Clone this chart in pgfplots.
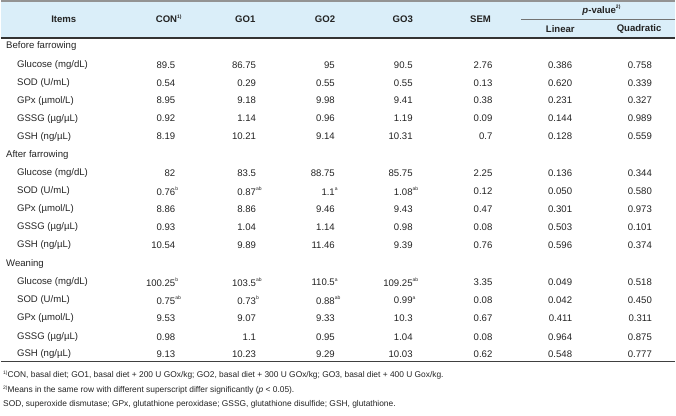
\documentclass[border=0pt]{standalone}
\usepackage{pgfplots}
\pgfplotsset{compat=1.18}
\usepackage{fontspec}
\setmainfont{Liberation Sans}
\definecolor{hdrblue}{RGB}{218,238,249}
\definecolor{txt}{RGB}{35,35,35}
\newcommand{\sx}[1]{\rlap{\raisebox{0.9ex}{\fontsize{5}{5}\selectfont #1}}}
\newcommand{\rowvals}[8]{%
  \node[R] at (axis cs:175,#1) {#2};
  \node[R] at (axis cs:256,#1) {#3};
  \node[R] at (axis cs:335,#1) {#4};
  \node[R] at (axis cs:413,#1) {#5};
  \node[R] at (axis cs:493,#1) {#6};
  \node[R] at (axis cs:573,#1) {#7};
  \node[R] at (axis cs:653,#1) {#8};}
\newcommand{\rowitem}[2]{\node[Lt] at (axis cs:16,#1) {#2};}
\tikzset{
  base/.style={inner sep=0pt, text=txt, font=\fontsize{9.6}{11}\selectfont},
  R/.style={base, anchor=east},
  Lt/.style={base, anchor=west},
  Hd/.style={base, anchor=center, font=\fontsize{9.6}{11}\selectfont\bfseries},
  Ft/.style={base, anchor=west, font=\fontsize{8.4}{9}\selectfont},
}
\begin{document}
\begin{tikzpicture}
\begin{axis}[width=676pt, height=417pt, scale only axis, xmin=0, xmax=676, ymin=0, ymax=417,
  y dir=reverse, hide axis, clip=false]
\addplot[draw=none] coordinates {(0,0) (676,417)};
\addplot[fill=hdrblue, draw=none] coordinates {(0,0) (676,0) (676,38) (0,38)} -- cycle;
\addplot[draw=gray!85, line width=2pt] coordinates {(0,1) (676,1)};
\addplot[draw=gray!90!black, line width=1pt] coordinates {(522,20) (676,20)};
\addplot[draw=black!80, line width=1.3pt] coordinates {(0,38) (676,38)};
\addplot[draw=black!75, line width=1pt] coordinates {(0,363) (676,363)};
% header
\node[Hd] at (axis cs:63,19) {Items};
\node[Hd] at (axis cs:166,19) {CON\sx{1)}};
\node[Hd] at (axis cs:245,19) {GO1};
\node[Hd] at (axis cs:325,19) {GO2};
\node[Hd] at (axis cs:403,19) {GO3};
\node[Hd] at (axis cs:481,19) {SEM};
\node[Hd] at (axis cs:600,10) {\textit{p}-value\sx{2)}};
\node[Hd] at (axis cs:561,29) {Linear};
\node[Hd] at (axis cs:640,29) {Quadratic};
% groups
\node[Lt] at (axis cs:5,46) {Before farrowing};
\node[Lt] at (axis cs:5,155) {After farrowing};
\node[Lt] at (axis cs:5,265) {Weaning};
% items
\rowitem{65}{Glucose (mg/dL)}
\rowitem{83}{SOD (U/mL)}
\rowitem{101}{GPx (\textmu mol/L)}
\rowitem{119}{GSSG (\textmu g/\textmu L)}
\rowitem{137}{GSH (ng/\textmu L)}
\rowitem{174}{Glucose (mg/dL)}
\rowitem{192}{SOD (U/mL)}
\rowitem{210}{GPx (\textmu mol/L)}
\rowitem{228}{GSSG (\textmu g/\textmu L)}
\rowitem{246}{GSH (ng/\textmu L)}
\rowitem{283}{Glucose (mg/dL)}
\rowitem{301}{SOD (U/mL)}
\rowitem{319}{GPx (\textmu mol/L)}
\rowitem{338}{GSSG (\textmu g/\textmu L)}
\rowitem{355}{GSH (ng/\textmu L)}
% values: CON, GO1, GO2, GO3, SEM, Linear, Quadratic
\rowvals{65}{89.5}{86.75}{95}{90.5}{2.76}{0.386}{0.758}
\rowvals{83}{0.54}{0.29}{0.55}{0.55}{0.13}{0.620}{0.339}
\rowvals{101}{8.95}{9.18}{9.98}{9.41}{0.38}{0.231}{0.327}
\rowvals{119}{0.92}{1.14}{0.96}{1.19}{0.09}{0.144}{0.989}
\rowvals{137}{8.19}{10.21}{9.14}{10.31}{0.7}{0.128}{0.559}
\rowvals{174}{82}{83.5}{88.75}{85.75}{2.25}{0.136}{0.344}
\rowvals{192}{0.76\sx{b}}{0.87\sx{ab}}{1.1\sx{a}}{1.08\sx{ab}}{0.12}{0.050}{0.580}
\rowvals{210}{8.86}{8.86}{9.46}{9.43}{0.47}{0.301}{0.973}
\rowvals{228}{0.93}{1.04}{1.14}{0.98}{0.08}{0.503}{0.101}
\rowvals{246}{10.54}{9.89}{11.46}{9.39}{0.76}{0.596}{0.374}
\rowvals{283}{100.25\sx{b}}{103.5\sx{ab}}{110.5\sx{a}}{109.25\sx{ab}}{3.35}{0.049}{0.518}
\rowvals{301}{0.75\sx{ab}}{0.73\sx{b}}{0.88\sx{ab}}{0.99\sx{a}}{0.08}{0.042}{0.450}
\rowvals{319}{9.53}{9.07}{9.33}{10.3}{0.67}{0.411}{0.311}
\rowvals{338}{0.98}{1.1}{0.95}{1.04}{0.08}{0.964}{0.875}
\rowvals{355}{9.13}{10.23}{9.29}{10.03}{0.62}{0.548}{0.777}
% footnotes
\node[Ft] at (axis cs:2,376) {\raisebox{0.8ex}{\fontsize{5}{5}\selectfont 1)}CON, basal diet; GO1, basal diet + 200 U GOx/kg; GO2, basal diet + 300 U GOx/kg; GO3, basal diet + 400 U Gox/kg.};
\node[Ft] at (axis cs:2,391) {\raisebox{0.8ex}{\fontsize{5}{5}\selectfont 2)}Means in the same row with different superscript differ significantly (\textit{p} < 0.05).};
\node[Ft] at (axis cs:2,406) {SOD, superoxide dismutase; GPx, glutathione peroxidase; GSSG, glutathione disulfide; GSH, glutathione.};
\end{axis}
\end{tikzpicture}
\end{document}
